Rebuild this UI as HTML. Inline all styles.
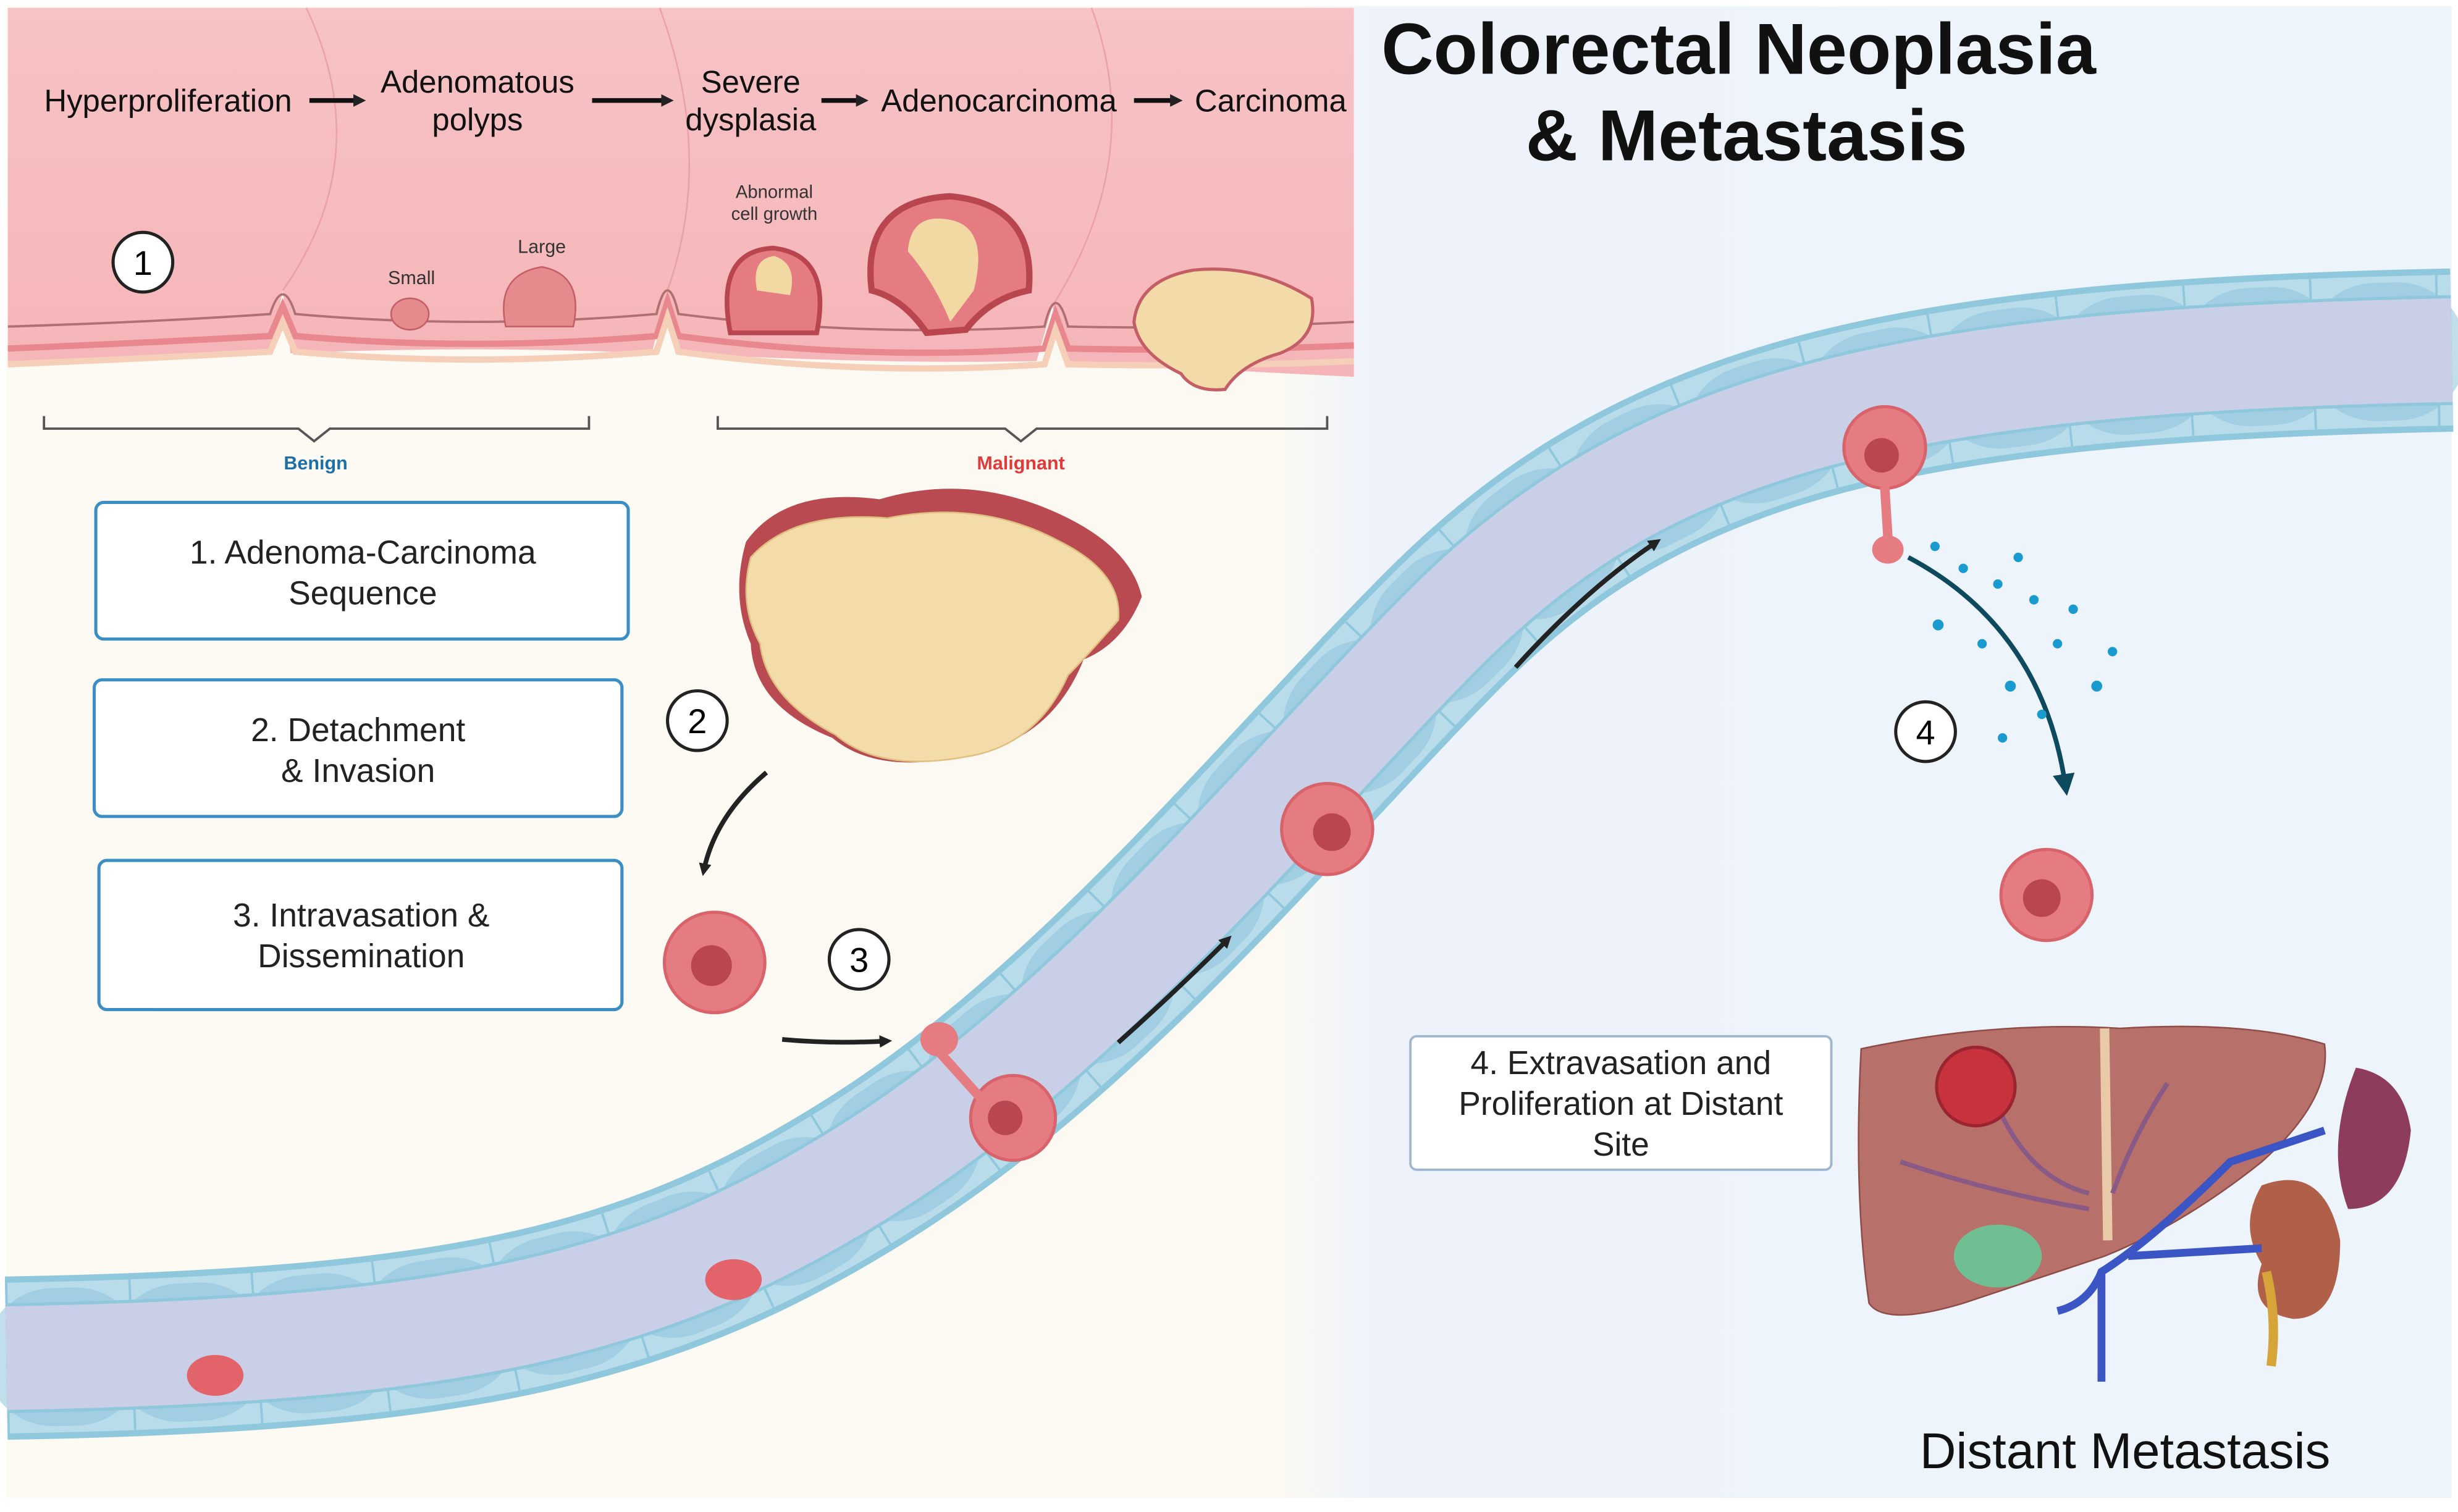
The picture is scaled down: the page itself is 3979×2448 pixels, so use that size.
<!DOCTYPE html>
<html><head><meta charset="utf-8"><style>
html,body{margin:0;padding:0;background:#fff}
svg{display:block}
text{font-family:"Liberation Sans",Arial,sans-serif}
</style></head><body>
<svg width="3979" height="2448" viewBox="0 0 1565 963" preserveAspectRatio="none" xmlns="http://www.w3.org/2000/svg">
<defs>
<linearGradient id="bg" x1="0" x2="1" y1="0" y2="0">
<stop offset="0" stop-color="#fcfaf2"/><stop offset="0.52" stop-color="#fbf9f2"/><stop offset="0.56" stop-color="#eef3fb"/><stop offset="1" stop-color="#eef4fc"/>
</linearGradient>
<linearGradient id="pk" x1="0" x2="0" y1="0" y2="1">
<stop offset="0" stop-color="#f7c3c5"/><stop offset="1" stop-color="#f5b5b8"/>
</linearGradient>
<marker id="ah" markerWidth="8" markerHeight="8" refX="5" refY="4" orient="auto" markerUnits="userSpaceOnUse"><path d="M0,0 L8,4 L0,8 Z" fill="#222"/></marker>
<marker id="ah2" markerWidth="14" markerHeight="14" refX="7" refY="7" orient="auto" markerUnits="userSpaceOnUse"><path d="M0,0 L14,7 L0,14 Z" fill="#0e4a5e"/></marker>
</defs>
<rect width="1565" height="963" fill="#fff"/>
<rect x="4" y="4" width="1557" height="950" fill="url(#bg)"/>
<!-- colon strip -->
<path d="M5,5 H862 V240 Q760,235 680,230 L670,195 L660,230 Q560,232 430,225 L425,185 L415,225 Q300,220 185,225 L180,185 L172,225 Q90,230 5,230 Z" fill="url(#pk)"/>
<g stroke="#e79aa0" stroke-width="1" fill="none" opacity="0.8">
<path d="M195,5 Q240,100 180,185"/><path d="M420,5 Q455,100 425,185"/><path d="M695,5 Q730,100 670,195"/>
</g>
<path d="M5,208 Q100,205 172,200 Q180,175 188,200 Q300,210 418,200 Q425,170 432,200 Q550,215 665,208 Q672,178 680,208 Q770,210 862,205" fill="none" stroke="#b06f73" stroke-width="1.5"/>
<path d="M5,222 Q100,218 172,214 L180,195 L188,214 Q300,224 418,214 L425,192 L432,214 Q550,230 665,222 L672,200 L680,222 Q770,224 862,220" fill="none" stroke="#e8888e" stroke-width="4"/>
<path d="M5,232 Q100,228 172,224 L180,205 L188,224 Q300,234 418,224 L425,202 L432,224 Q550,240 665,232 L672,210 L680,232 Q770,234 862,230" fill="none" stroke="#f5cfb8" stroke-width="4"/>
<!-- polyps -->
<ellipse cx="261" cy="200" rx="12" ry="10" fill="#e58b8e" stroke="#c45e66"/>
<path d="M322,208 Q315,175 345,170 Q372,175 365,208 Z" fill="#e58b8e" stroke="#c45e66"/>
<path d="M465,212 Q455,160 492,158 Q530,162 520,212 Z" fill="#e47c82" stroke="#b9454f" stroke-width="3"/>
<path d="M482,185 Q478,165 493,163 Q508,168 503,188 Z" fill="#f2d9a4"/>
<path d="M555,185 Q548,128 605,125 Q660,130 655,185 Q630,190 615,210 L590,212 Q575,190 555,185 Z" fill="#e47c82" stroke="#b9454f" stroke-width="4"/>
<path d="M578,160 Q580,135 605,140 Q630,145 620,185 L605,205 Q595,180 578,160 Z" fill="#f2d9a4"/>
<path d="M722,205 Q725,178 760,172 Q800,168 835,190 Q840,215 815,225 Q790,232 780,248 Q760,250 752,238 Q725,225 722,205 Z" fill="#f2dba8" stroke="#c45e66" stroke-width="2"/>
<circle cx="91" cy="167" r="19" fill="#fff" stroke="#222" stroke-width="2"/><text x="91" y="175" font-size="22" text-anchor="middle">1</text>
<text x="262" y="181" font-size="12" text-anchor="middle" fill="#333">Small</text>
<text x="345" y="161" font-size="12" text-anchor="middle" fill="#333">Large</text>
<text x="493" y="126" font-size="11.5" text-anchor="middle" fill="#333">Abnormal</text>
<text x="493" y="140" font-size="11.5" text-anchor="middle" fill="#333">cell growth</text>
<g font-size="20" fill="#111" text-anchor="middle">
<text x="107" y="71">Hyperproliferation</text>
<text x="304" y="59">Adenomatous</text><text x="304" y="83">polyps</text>
<text x="478" y="59">Severe</text><text x="478" y="83">dysplasia</text>
<text x="636" y="71">Adenocarcinoma</text>
<text x="809" y="71">Carcinoma</text>
</g>
<g stroke="#111" stroke-width="3" marker-end="url(#ah)">
<line x1="197" y1="64" x2="230" y2="64"/><line x1="377" y1="64" x2="426" y2="64"/><line x1="523" y1="64" x2="550" y2="64"/><line x1="722" y1="64" x2="750" y2="64"/>
</g>
<path d="M28,265 V273 H190 L200,281 L210,273 H375 V265" fill="none" stroke="#555" stroke-width="1.5"/>
<path d="M457,265 V273 H640 L650,281 L660,273 H845 V265" fill="none" stroke="#555" stroke-width="1.5"/>
<text x="201" y="299" font-size="12" font-weight="bold" fill="#1d6fa8" text-anchor="middle">Benign</text>
<text x="650" y="299" font-size="12" font-weight="bold" fill="#e03a3a" text-anchor="middle">Malignant</text>
<!-- title -->
<g font-size="46" font-weight="bold" fill="#111" text-anchor="middle">
<text x="1107" y="47">Colorectal Neoplasia</text>
<text x="1112" y="102">&amp; Metastasis</text>
</g>
<!-- boxes -->
<g fill="#fff" stroke="#3b8ec4" stroke-width="2">
<rect x="61" y="320" width="339" height="87" rx="5"/><rect x="60" y="433" width="336" height="87" rx="5"/><rect x="63" y="548" width="333" height="95" rx="5"/>
<rect x="898" y="660" width="268" height="85" rx="4" stroke="#9fb6cf" stroke-width="1.5"/>
</g>
<g font-size="21" fill="#222" text-anchor="middle">
<text x="231" y="359">1. Adenoma-Carcinoma</text><text x="231" y="385">Sequence</text>
<text x="228" y="472">2. Detachment</text><text x="228" y="498">&amp; Invasion</text>
<text x="230" y="590">3. Intravasation &amp;</text><text x="230" y="616">Dissemination</text>
<text x="1032" y="684">4. Extravasation and</text><text x="1032" y="710">Proliferation at Distant</text><text x="1032" y="736">Site</text>
</g>
<!-- vessel -->
<g fill="none">
<path id="v" d="M4,865 C300,860 420,830 560,740 C700,650 820,500 920,400 C1050,270 1200,230 1561,223" stroke="#8fc8dc" stroke-width="104"/>
<path d="M4,865 C300,860 420,830 560,740 C700,650 820,500 920,400 C1050,270 1200,230 1561,223" stroke="#b9dcea" stroke-width="96"/>
<path d="M4,865 C300,860 420,830 560,740 C700,650 820,500 920,400 C1050,270 1200,230 1561,223" stroke="#b9dcea" stroke-width="96" stroke-dasharray="1.5 78" stroke-opacity="1" style="stroke:#8fc8dc"/>
<path d="M4,865 C300,860 420,830 560,740 C700,650 820,500 920,400 C1050,270 1200,230 1561,223" stroke="#8fc8dc" stroke-width="88" stroke-dasharray="14 66" stroke-dashoffset="-30" stroke-linecap="round" style="stroke:#8ec3da;opacity:.55"/>
<path d="M4,865 C300,860 420,830 560,740 C700,650 820,500 920,400 C1050,270 1200,230 1561,223" stroke="#8fc8dc" stroke-width="70"/>
<path d="M4,865 C300,860 420,830 560,740 C700,650 820,500 920,400 C1050,270 1200,230 1561,223" stroke="#c9cfe6" stroke-width="66"/>
</g>
<ellipse cx="137" cy="876" rx="18" ry="13" fill="#e3636b"/><ellipse cx="467" cy="815" rx="18" ry="13" fill="#e3636b"/>
<!-- big tumor -->
<path d="M475,345 Q500,310 560,318 Q620,300 680,330 Q720,350 727,380 Q715,410 690,420 Q670,470 620,480 Q560,495 530,470 Q480,450 478,410 Q465,380 475,345 Z" fill="#b94a52"/>
<path d="M478,355 Q505,325 565,330 Q625,318 675,345 Q715,365 712,395 Q690,420 680,430 Q660,475 615,482 Q560,492 532,468 Q488,445 484,410 Q470,385 478,355 Z" fill="#f3dca9" stroke="#e0c080"/>
<!-- cells -->
<g fill="#e57c81" stroke="#d8636b" stroke-width="2">
<circle cx="455" cy="613" r="32"/><circle cx="845" cy="528" r="29"/><circle cx="1303" cy="570" r="29"/>
<circle cx="645" cy="712" r="27"/><circle cx="1200" cy="285" r="26"/>
</g>
<g fill="#b94650"><circle cx="453" cy="615" r="13"/><circle cx="848" cy="530" r="12"/><circle cx="1300" cy="572" r="12"/><circle cx="640" cy="712" r="11"/><circle cx="1198" cy="290" r="11"/></g>
<ellipse cx="598" cy="662" rx="12" ry="11" fill="#e57c81"/><ellipse cx="1202" cy="350" rx="10" ry="9" fill="#e57c81"/>
<path d="M598,670 L625,700" stroke="#e57c81" stroke-width="6"/><path d="M1200,310 L1202,342" stroke="#e57c81" stroke-width="6"/>
<!-- circles -->
<g fill="#fff" stroke="#222" stroke-width="2"><circle cx="444" cy="459" r="19"/><circle cx="547" cy="611" r="19"/><circle cx="1226" cy="466" r="19"/></g>
<g font-size="22" text-anchor="middle"><text x="444" y="467">2</text><text x="547" y="619">3</text><text x="1226" y="474">4</text></g>
<!-- arrows -->
<g fill="none" stroke="#222" stroke-width="3" marker-end="url(#ah)">
<path d="M488,492 Q455,520 448,555"/><path d="M498,662 Q530,665 565,663"/><path d="M712,664 Q750,630 782,598"/><path d="M965,425 Q1010,375 1055,345"/>
</g>
<path d="M1215,355 Q1300,400 1315,500" fill="none" stroke="#0e4a5e" stroke-width="3" marker-end="url(#ah2)"/>
<g fill="#1a9bd0"><circle cx="1232" cy="348" r="3"/><circle cx="1250" cy="362" r="3"/><circle cx="1272" cy="372" r="3"/><circle cx="1295" cy="382" r="3"/><circle cx="1320" cy="388" r="3"/><circle cx="1345" cy="415" r="3"/><circle cx="1234" cy="398" r="3.5"/><circle cx="1262" cy="410" r="3"/><circle cx="1280" cy="437" r="3.5"/><circle cx="1310" cy="410" r="3"/><circle cx="1335" cy="437" r="3.5"/><circle cx="1275" cy="470" r="3"/><circle cx="1300" cy="455" r="3"/><circle cx="1285" cy="355" r="3"/></g>
<!-- liver -->
<path d="M1185,668 Q1270,650 1350,655 Q1430,650 1480,665 Q1485,700 1440,740 Q1390,780 1340,800 Q1280,820 1250,830 Q1200,845 1190,830 Q1180,760 1185,668 Z" fill="#b8706a" stroke="#8e4d48"/>
<path d="M1340,655 L1342,790" stroke="#e8c9a8" stroke-width="6"/>
<path d="M1210,740 Q1270,760 1330,770 M1270,700 Q1290,750 1330,760 M1380,690 Q1360,720 1345,760" stroke="#8a5a86" stroke-width="3" fill="none"/>
<ellipse cx="1272" cy="800" rx="28" ry="20" fill="#6fbf92"/>
<circle cx="1258" cy="692" r="25" fill="#c8323d" stroke="#9a2430" stroke-width="2"/>
<path d="M1500,680 Q1530,685 1535,720 Q1530,770 1495,770 Q1480,730 1500,680 Z" fill="#8d3c5c"/>
<path d="M1440,755 Q1480,740 1490,790 Q1490,840 1460,840 Q1430,835 1440,805 Q1425,780 1440,755 Z" fill="#b06048"/>
<g stroke="#3b56c4" stroke-width="5" fill="none"><path d="M1338,810 V880"/><path d="M1310,835 Q1330,830 1338,810 Q1370,790 1420,740 L1480,720"/><path d="M1355,800 L1440,795"/></g>
<path d="M1443,810 Q1450,840 1446,870" stroke="#d6a438" stroke-width="6" fill="none"/>
<text x="1353" y="935" font-size="32" fill="#111" text-anchor="middle">Distant Metastasis</text>
</svg>
</body></html>
